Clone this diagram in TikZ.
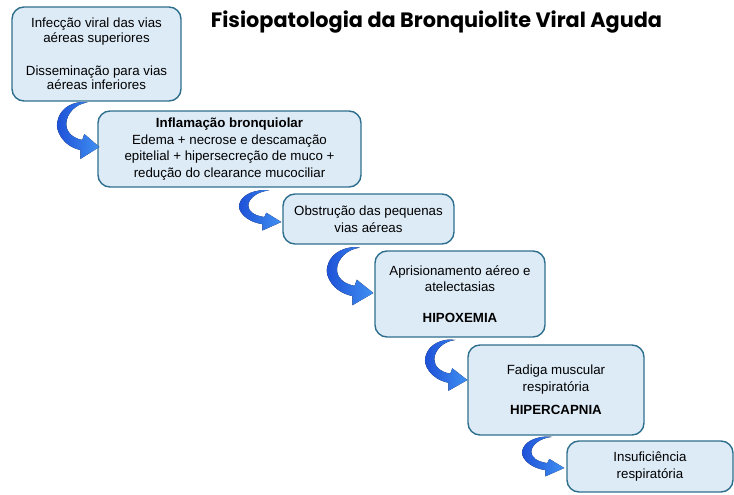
\documentclass[tikz,border=0pt]{standalone}
\usepackage{fontspec}
\setmainfont{Liberation Sans}
\newfontfamily\titlefont{Poppins}
\usetikzlibrary{calc}
\definecolor{boxfill}{HTML}{DDEBF7}
\definecolor{boxline}{HTML}{2E6F8E}
\definecolor{arrowdark}{HTML}{1D4FD6}
\definecolor{arrowlight}{HTML}{4090F2}
\newcommand{\curvedarrowpath}{%
  (0,0) -- (-19,12) -- (-19,3)
  .. controls (-37,-1) and (-44,-17) .. (-42,-25)
  .. controls (-40,-37) and (-30,-44) .. (-18,-45)
  -- (-12,-44.5)
  .. controls (-24,-43) and (-33,-33) .. (-33,-23)
  .. controls (-33,-15) and (-27,-9) .. (-17,-7)
  -- (-15,-13) -- cycle}
\tikzset{
  stepbox/.style={draw=boxline, fill=boxfill, line width=1.4pt, rounded corners=12pt,
    inner sep=0pt, align=center, font=\fontsize{13.3}{16.5}\selectfont},
  flowarrow/.style={left color=arrowdark, right color=arrowlight, draw=none}
}
\begin{document}
\begin{tikzpicture}[x=1pt,y=-1pt]
\useasboundingbox (0,0) rectangle (734,495);
\node[anchor=base, font=\titlefont\bfseries\fontsize{20.8}{24}\selectfont] (title) at (436.5,28) {Fisiopatologia da Bronquiolite Viral Aguda};

\node[stepbox, minimum width=169pt, minimum height=94pt, font=\fontsize{13.3}{14.8}\selectfont] (b1) at (96.5,54)
  {Infecção viral das vias\\aéreas superiores\\[18pt]Disseminação para vias\\aéreas inferiores};
\node[stepbox, minimum width=263pt, minimum height=76pt] (b2) at (229.5,149)
  {\textbf{Inflamação bronquiolar}\\Edema + necrose e descamação\\epitelial + hipersecreção de muco +\\redução do clearance mucociliar};
\node[stepbox, minimum width=171pt, minimum height=50pt] (b3) at (368.5,219)
  {Obstrução das pequenas\\vias aéreas};
\node[stepbox, minimum width=170pt, minimum height=86pt] (b4) at (460,294)
  {Aprisionamento aéreo e\\atelectasias\\[14pt]\textbf{HIPOXEMIA}};
\node[stepbox, minimum width=176pt, minimum height=90pt] (b5) at (556,390)
  {Fadiga muscular\\respiratória\\[7pt]\textbf{HIPERCAPNIA}};
\node[stepbox, minimum width=166pt, minimum height=51pt] (b6) at (650,466.5)
  {Insuficiência\\respiratória};

\begin{scope}[shift={($(b2.west)+(2,-2)$)}]
  \fill[flowarrow] \curvedarrowpath;
\end{scope}
\begin{scope}[shift={($(b3.west)+(-1,3)$)}, yscale=0.71]
  \fill[flowarrow] \curvedarrowpath;
\end{scope}
\begin{scope}[shift={($(b4.west)+(-1,-1)$)}, xscale=1.1, yscale=1.02]
  \fill[flowarrow] \curvedarrowpath;
\end{scope}
\begin{scope}[shift={($(b5.west)+(0,-10)$)}, yscale=0.9]
  \fill[flowarrow] \curvedarrowpath;
\end{scope}
\begin{scope}[shift={($(b6.west)+(-2,1.5)$)}, yscale=0.7]
  \fill[flowarrow] \curvedarrowpath;
\end{scope}
\end{tikzpicture}
\end{document}
